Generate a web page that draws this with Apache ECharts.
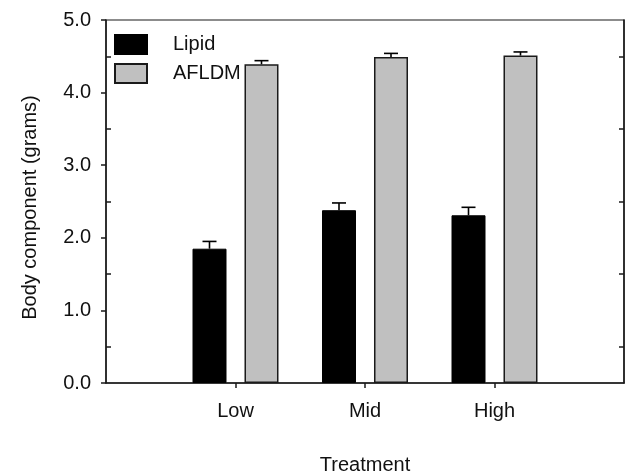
<!DOCTYPE html>
<html>
<head>
<meta charset="utf-8">
<script src="https://cdn.jsdelivr.net/npm/echarts@6/dist/echarts.min.js"></script>
<style>html,body{margin:0;padding:0;background:#fff;}#c{width:627px;height:473px;}</style>
</head>
<body>
<div id="c"></div>
<script>
const categories = ['Low', 'Mid', 'High'];
const seriesNames = ['Lipid', 'AFLDM'];
const lipid = [1.85, 2.38, 2.31];
const lipidErr = [0.10, 0.10, 0.11];
const afldm = [4.39, 4.49, 4.51];
const afldmErr = [0.05, 0.05, 0.05];
const yTicks = [0, 1, 2, 3, 4, 5];

const FONT = "'Liberation Sans', Arial, sans-serif";
const AX = '#1a1a1a';
const axisCats = [''].concat(categories, ['']);
const pad = arr => [null].concat(arr, [null]);
const BARW = 34, GAPPX = 18;
const offs = [-(BARW + GAPPX) / 2, (BARW + GAPPX) / 2];

function errSeries(vals, errs, k) {
  const data = vals.map((v, i) => [i + 1, v, errs[i]]);
  return {
    type: 'custom',
    name: seriesNames[k] + ' err',
    data: data,
    z: 5,
    renderItem: function (params, api) {
      const x = api.value(0), v = api.value(1), e = api.value(2);
      const p0 = api.coord([x, v]);
      const p1 = api.coord([x, v + e]);
      const cx = p0[0] + offs[k];
      const style = { stroke: '#000', lineWidth: 1.6 };
      return {
        type: 'group',
        children: [
          { type: 'line', shape: { x1: cx, y1: p0[1], x2: cx, y2: p1[1] }, style: style },
          { type: 'line', shape: { x1: cx - 7, y1: p1[1], x2: cx + 7, y2: p1[1] }, style: style }
        ]
      };
    }
  };
}

const chart = echarts.init(document.getElementById('c'), null, { renderer: 'canvas' });
chart.setOption({
  animation: false,
  backgroundColor: '#fff',
  textStyle: { fontFamily: FONT },
  grid: { left: 106, right: 3, top: 20, bottom: 90, outerBoundsMode: 'none', containLabel: false, show: true, borderColor: AX, borderWidth: 1.2, backgroundColor: 'transparent' },
  legend: {
    data: seriesNames,
    orient: 'vertical',
    left: 109, top: 29,
    itemWidth: 32, itemHeight: 19, itemGap: 8,
    icon: 'rect',
    textStyle: { fontFamily: FONT, fontSize: 20, color: '#111', padding: [0, 0, 0, 21], lineHeight: 19 }
  },
  xAxis: {
    type: 'category',
    data: axisCats,
    boundaryGap: false,
    name: 'Treatment',
    nameLocation: 'middle',
    nameGap: 72,
    nameTextStyle: { fontFamily: FONT, fontSize: 20, color: '#111' },
    axisLine: { lineStyle: { color: AX, width: 1.5 } },
    axisTick: { show: true, length: 5, interval: (i) => i > 0 && i < axisCats.length - 1, lineStyle: { color: AX, width: 1.5 } },
    axisLabel: { interval: 0, margin: 18, fontFamily: FONT, fontSize: 20, color: '#111' },
    splitLine: { show: false }
  },
  yAxis: [
    {
      type: 'value', min: yTicks[0], max: yTicks[yTicks.length - 1], interval: 1,
      name: 'Body component (grams)',
      nameLocation: 'middle',
      nameGap: 66,
      nameTextStyle: { fontFamily: FONT, fontSize: 20, color: '#111', padding: [0, 12, 0, 0] },
      axisLine: { show: true, lineStyle: { color: AX, width: 1.5 } },
      axisTick: { show: true, length: 5, lineStyle: { color: AX, width: 1.5 } },
      axisLabel: { margin: 15, fontFamily: FONT, fontSize: 20, color: '#111', formatter: v => v.toFixed(1) },
      splitLine: { show: false }
    },
    {
      type: 'value', min: yTicks[0], max: yTicks[yTicks.length - 1], interval: 1, position: 'left',
      axisLine: { show: false },
      axisTick: { show: false, inside: true },
      axisLabel: { show: false },
      minorTick: { show: true, splitNumber: 2, length: 5, lineStyle: { color: AX, width: 1.5 } },
      splitLine: { show: false }
    },
    {
      type: 'value', min: yTicks[0], max: yTicks[yTicks.length - 1], interval: 1, position: 'right',
      axisLine: { show: true, lineStyle: { color: AX, width: 1.5 } },
      axisTick: { show: false, inside: true },
      axisLabel: { show: false },
      minorTick: { show: true, splitNumber: 2, length: 5, lineStyle: { color: AX, width: 1.5 } },
      splitLine: { show: false }
    }
  ],
  series: [
    {
      type: 'bar', name: seriesNames[0], data: pad(lipid),
      barWidth: BARW, barGap: (GAPPX / BARW * 100).toFixed(1) + '%',
      itemStyle: { color: '#000', borderColor: '#000', borderWidth: 1 }
    },
    {
      type: 'bar', name: seriesNames[1], data: pad(afldm),
      barWidth: BARW,
      itemStyle: { color: '#c0c0c0', borderColor: '#1a1a1a', borderWidth: 1.5 }
    },
    errSeries(lipid, lipidErr, 0),
    errSeries(afldm, afldmErr, 1)
  ]
});
</script>
</body>
</html>
